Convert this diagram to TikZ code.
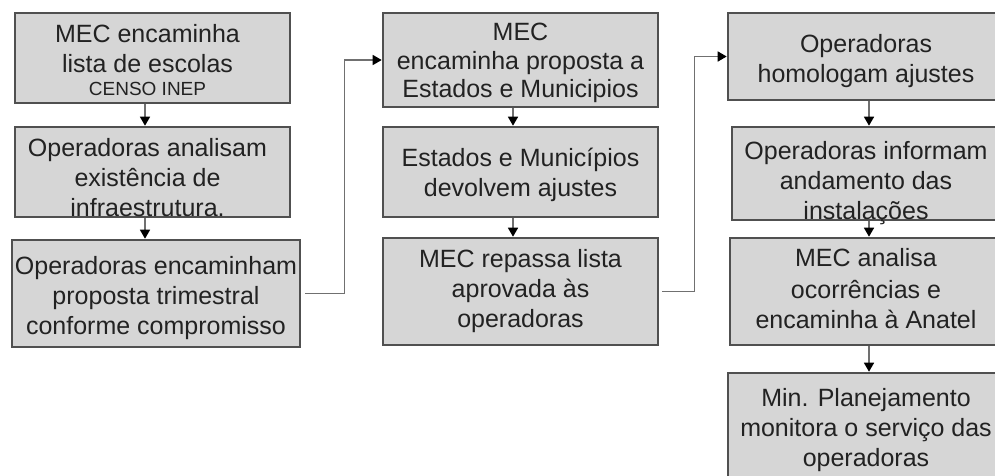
\documentclass[tikz,border=0pt]{standalone}
\usepackage{fontspec}
\setmainfont{Liberation Sans}
\usetikzlibrary{arrows.meta}
\definecolor{caixafundo}{HTML}{D6D6D6}
\definecolor{caixaborda}{HTML}{505050}
\definecolor{linha}{HTML}{707070}
\definecolor{texto}{HTML}{222222}
\begin{document}
\begin{tikzpicture}[x=1pt,y=-1pt,
   caixa/.style={draw=caixaborda,line width=2.6pt,fill=caixafundo,inner sep=0pt},
   rotulo/.style={anchor=north,align=center,inner sep=0pt,text=texto,font=\fontsize{25}{30}\selectfont},
   seta/.style={draw=linha,line width=1.5pt,-{Triangle[length=9pt,width=10pt,color=black]}}]
   \useasboundingbox (0,0) rectangle (995,475);
   \clip (0,0) rectangle (995,475);

   % caixas
   \node[caixa,minimum width=275,minimum height=90] (a) at (152.5,58) {};
   \node[caixa,minimum width=275,minimum height=90] (b) at (152.5,172) {};
   \node[caixa,minimum width=288,minimum height=107] (c) at (156,293.5) {};
   \node[caixa,minimum width=275,minimum height=94] (d) at (520.5,60) {};
   \node[caixa,minimum width=275,minimum height=90] (e) at (520.5,172) {};
   \node[caixa,minimum width=275,minimum height=107] (f) at (520.5,291.5) {};
   \node[caixa,minimum width=280,minimum height=87] (g) at (868,56.5) {};
   \node[caixa,minimum width=280,minimum height=93] (h) at (872,173.5) {};
   \node[caixa,minimum width=280,minimum height=107] (i) at (870,291.5) {};
   \node[caixa,minimum width=280,minimum height=115] (j) at (868,430.5) {};

   % setas
   \coordinate (eixoA) at (145,0);
   \coordinate (eixoB) at (513,0);
   \coordinate (eixoC) at (869,0);
   \draw[seta] (a.south -| eixoA) -- (b.north -| eixoA);
   \draw[seta] (b.south -| eixoA) -- (c.north -| eixoA);
   \draw[seta] (d.south -| eixoB) -- (e.north -| eixoB);
   \draw[seta] (e.south -| eixoB) -- (f.north -| eixoB);
   \draw[seta] (g.south -| eixoC) -- (h.north -| eixoC);
   \draw[seta] (h.south -| eixoC) -- (i.north -| eixoC);
   \draw[seta] (i.south -| eixoC) -- (j.north -| eixoC);
   \draw[seta,shorten <=4pt] (c.east) -- ++(43,0) |- (d.west);
   \draw[seta,shorten <=3pt] (f.east) -- ++(35,0) |- (g.west);

   % textos
   \node[rotulo] (ta) at ([xshift=-5pt,yshift=-12pt]a.north) {MEC encaminha\\lista de escolas\\[-7pt]{\fontsize{19}{22}\selectfont CENSO INEP}};
   \node[rotulo] (tb) at ([xshift=-5pt,yshift=-12pt]b.north) {Operadoras analisam\\existência de\\infraestrutura.};
   \node[rotulo] (tc) at ([yshift=-17pt]c.north) {Operadoras encaminham\\proposta trimestral\\conforme compromisso};
   \node[rotulo] (td) at ([yshift=-11pt]d.north) {MEC\\[-1pt]encaminha proposta a\\[-2pt]Estados e Municipios};
   \node[rotulo] (te) at ([yshift=-22pt]e.north) {Estados e Municípios\\devolvem ajustes};
   \node[rotulo] (tf) at ([yshift=-12pt]f.north) {MEC repassa lista\\aprovada às\\operadoras};
   \node[rotulo] (tg) at ([xshift=-2pt,yshift=-22pt]g.north) {Operadoras\\homologam ajustes};
   \node[rotulo] (th) at ([xshift=-6pt,yshift=-15pt]h.north) {Operadoras informam\\andamento das\\instalações};
   \node[rotulo] (ti) at ([xshift=-4pt,yshift=-11pt]i.north) {MEC analisa\\[2pt]ocorrências e\\encaminha à Anatel};
   \node[rotulo] (tj) at ([xshift=-2pt,yshift=-16pt]j.north) {Min. Planejamento\\monitora o serviço das\\operadoras};
\end{tikzpicture}
\end{document}
